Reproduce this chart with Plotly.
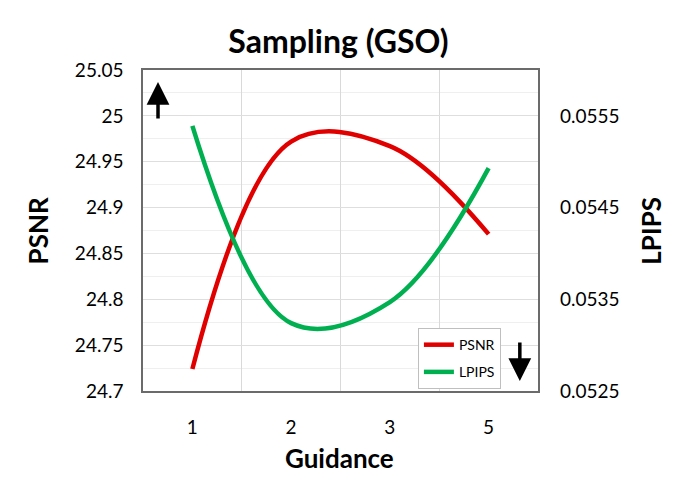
import plotly.graph_objects as go

guidance = ["1", "2", "3", "5"]
psnr = [24.724, 24.972, 24.967, 24.871]
lpips = [0.05539, 0.05324, 0.05347, 0.05493]

FONT = "Lato"

fig = go.Figure()
fig.add_trace(go.Scatter(
    x=guidance, y=psnr, name="PSNR", mode="lines", legendgroup="a",
    line=dict(color="#e00000", width=4.5, shape="spline", smoothing=1.05),
))
fig.add_trace(go.Scatter(
    x=guidance, y=lpips, name="LPIPS", mode="lines", yaxis="y2", legendgroup="b",
    line=dict(color="#00b050", width=4.5, shape="spline", smoothing=1.05),
))

# page body has an 8px margin, so the margins are offset to compensate
fig.update_layout(
    width=680, height=483,
    margin=dict(l=135, r=150, t=62, b=100, autoexpand=False),
    paper_bgcolor="white", plot_bgcolor="white",
    font=dict(family=FONT, color="black"),
    title=dict(text="<b>Sampling (GSO)</b>", x=0.486, xanchor="center",
               y=0.93, yanchor="middle", font=dict(size=32)),
    xaxis=dict(
        type="category", range=[-0.5, 3.5], tickson="boundaries",
        showgrid=True, gridcolor="#d9d9d9", gridwidth=1,
        ticks="", ticklabelstandoff=18, tickfont=dict(size=19),
        showline=True, linecolor="#6b6b6b", linewidth=1.5, mirror=True,
        automargin=False,
    ),
    yaxis=dict(
        range=[24.7, 25.05], tick0=24.7, dtick=0.05,
        showgrid=True, gridcolor="#dedede", gridwidth=1,
        minor=dict(dtick=0.025, showgrid=True, gridcolor="#efefef", gridwidth=1),
        ticks="", ticklabelstandoff=14, tickfont=dict(size=19),
        showline=True, linecolor="#6b6b6b", linewidth=1.5, mirror=True,
        zeroline=False, automargin=False,
    ),
    yaxis2=dict(
        overlaying="y", side="right",
        range=[0.0525, 0.0560], tick0=0.0525, dtick=0.001,
        showgrid=False, zeroline=False, automargin=False,
        ticks="", ticklabelstandoff=21, tickfont=dict(size=19),
    ),
    legend=dict(
        x=0.696, y=0.196, xanchor="left", yanchor="top",
        bgcolor="white", bordercolor="#bfbfbf", borderwidth=1,
        font=dict(size=14), itemwidth=30,
        traceorder="grouped", tracegroupgap=6,
    ),
    showlegend=True,
)

# axis titles
fig.add_annotation(xref="paper", yref="paper", x=0.497, y=-0.209,
                   text="<b>Guidance</b>", showarrow=False,
                   xanchor="center", yanchor="middle", font=dict(size=26))
fig.add_annotation(xref="paper", yref="paper", x=-0.266, y=0.5,
                   text="<b>PSNR</b>", showarrow=False, textangle=-90,
                   xanchor="center", yanchor="middle", font=dict(size=26))
fig.add_annotation(xref="paper", yref="paper", x=1.284, y=0.5,
                   text="<b>LPIPS</b>", showarrow=False, textangle=-90,
                   xanchor="center", yanchor="middle", font=dict(size=26))

# direction arrows (higher PSNR is better, lower LPIPS is better)
fig.add_annotation(
    xref="paper", yref="paper", x=0.038, y=0.963, ax=0, ay=38,
    text="", showarrow=True, arrowhead=2, arrowsize=1.3, arrowwidth=3.5,
    arrowcolor="black",
)
fig.add_annotation(
    xref="paper", yref="paper", x=0.954, y=0.031, ax=0, ay=-40,
    text="", showarrow=True, arrowhead=2, arrowsize=1.3, arrowwidth=3.5,
    arrowcolor="black",
)

fig.write_html("out.html")
